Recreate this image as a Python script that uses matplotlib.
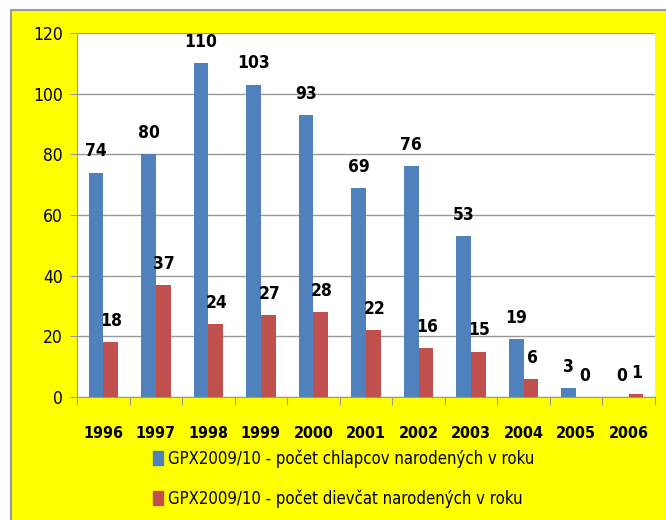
import matplotlib
matplotlib.use('Agg')
import matplotlib.pyplot as plt
import matplotlib.patches as mpatches
import numpy as np

# data
years = ['1996', '1997', '1998', '1999', '2000', '2001', '2002', '2003', '2004', '2005', '2006']
boys = [74, 80, 110, 103, 93, 69, 76, 53, 19, 3, 0]
girls = [18, 37, 24, 27, 28, 22, 16, 15, 6, 0, 1]
label_boys = 'GPX2009/10 - počet chlapcov narodených v roku'
label_girls = 'GPX2009/10 - počet dievčat narodených v roku'

plt.rcParams['font.family'] = ['DejaVu Sans']
plt.rcParams['font.stretch'] = 'condensed'

fig = plt.figure(figsize=(6.66, 5.2), dpi=100, facecolor='white')

# yellow chart area with grey frame
bg = mpatches.Rectangle((11 / 666, -0.01), 1.0, 1 - 10 / 520 + 0.01,
                        transform=fig.transFigure, facecolor='#ffff00',
                        edgecolor='#999999', linewidth=1.5, zorder=-10)
fig.add_artist(bg)

ax = fig.add_axes([77 / 666, 1 - 397 / 520, (655 - 77) / 666, (397 - 33) / 520])
ax.set_zorder(5)
ax.set_facecolor('white')

x = np.arange(len(years))
w = 0.28
ax.bar(x - w / 2, boys, w, color='#4f81bd', zorder=3)
ax.bar(x + w / 2, girls, w, color='#c0504d', zorder=3)

for i in range(len(years)):
    ax.text(x[i] - w / 2, boys[i] + 4, str(boys[i]), ha='center', va='bottom',
            fontsize=12.5, fontweight='bold')
    ax.text(x[i] + w / 2 + 0.02, girls[i] + 4, str(girls[i]), ha='center', va='bottom',
            fontsize=12.5, fontweight='bold')

ax.set_xlim(-0.5, len(years) - 0.5)
ax.set_ylim(0, 120)
ax.set_yticks(range(0, 121, 20))
ax.yaxis.grid(True, color='#999999', linewidth=1, zorder=0)
ax.set_axisbelow(True)

ax.set_xticks(np.arange(-0.5, len(years), 1), minor=False)
ax.set_xticklabels([])
ax.set_xticks(x, minor=True)
ax.set_xticklabels(years, minor=True, fontsize=11.5, fontweight='bold')
ax.tick_params(axis='x', which='major', length=6, color='#999999')
ax.tick_params(axis='x', which='minor', length=0, pad=21)
ax.tick_params(axis='y', length=5, color='#999999', labelsize=12.5, pad=5)

for s in ['top', 'right']:
    ax.spines[s].set_visible(False)
ax.spines['left'].set_color('#999999')
ax.spines['bottom'].set_color('#999999')

handles = [mpatches.Patch(color='#4f81bd'), mpatches.Patch(color='#c0504d')]
fig.legend(handles, [label_boys, label_girls], loc='upper left',
           bbox_to_anchor=(138 / 666, 1 - 434 / 520), frameon=False,
           fontsize=12, handlelength=0.6, handleheight=0.9, handletextpad=0.3,
           labelspacing=1.3)

fig.savefig('out.png', dpi=100, facecolor='white')
